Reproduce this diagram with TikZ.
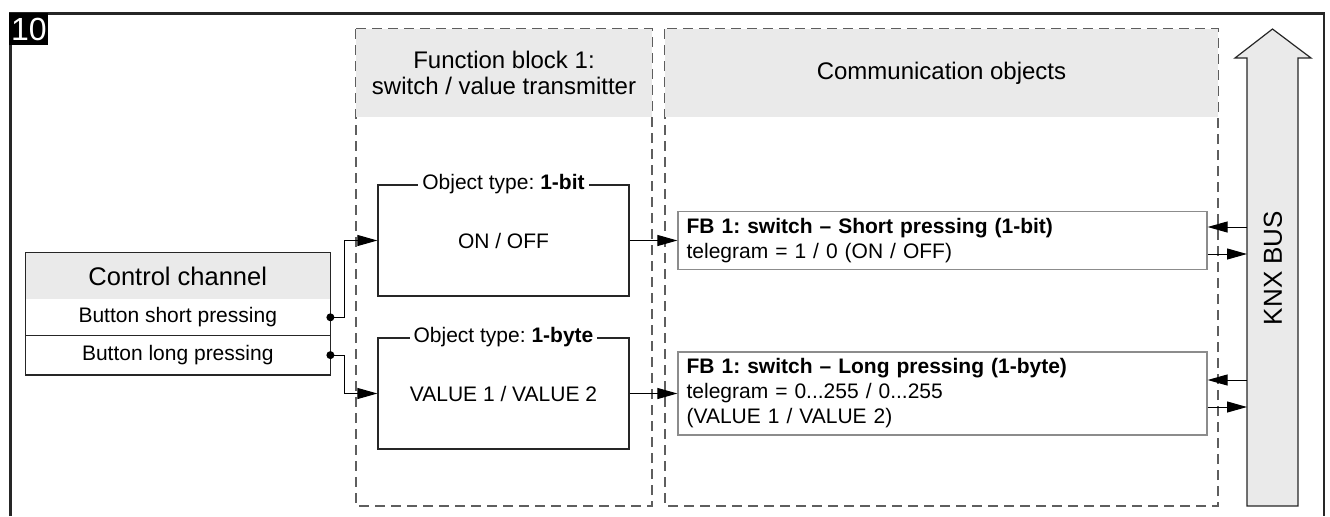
\documentclass[tikz,border=0pt]{standalone}
\usepackage{fontspec}
\setmainfont{Liberation Sans}
\usetikzlibrary{arrows.meta,positioning}
\definecolor{headgray}{HTML}{EAEAEA}
\definecolor{dashgray}{HTML}{5E5E5E}
\definecolor{boxgray}{HTML}{8C8C8C}
\definecolor{linegray}{HTML}{262626}
\frenchspacing

\begin{document}
\begin{tikzpicture}[x=0.5pt,y=-0.5pt,
    nodes={font=\fontsize{10.5}{12.5}\selectfont},
    head/.style={fill=headgray,inner sep=0pt,align=center,font=\fontsize{12}{13}\selectfont},
    column/.style={draw=dashgray,line width=0.9pt,dash pattern=on 5pt off 3pt},
    chrow/.style={minimum width=152.25pt,inner sep=0pt},
    objbox/.style={draw=linegray,line width=0.6pt,minimum width=125.5pt,minimum height=55.5pt,inner sep=0pt},
    objlab/.style={fill=white,inner xsep=2pt,inner ysep=1pt},
    combox/.style={draw=boxgray,line width=0.6pt,minimum width=264.5pt,inner xsep=4.3pt,text width=255.9pt,align=left},
    conn/.style={line width=0.5pt,-{Triangle[length=10pt,width=5.5pt]}},
    dot/.style={circle,fill,inner sep=0pt,minimum size=4pt}
]
    \useasboundingbox (0,0) rectangle (1330,516);
    \draw[line width=1.35pt,linegray] (10.5,516) -- (10.5,13.7) -- (1324,13.7) -- (1324,516);
    \node[fill=black,text=white,minimum width=19.5pt,minimum height=16pt,inner sep=0pt,
        font=\fontsize{16}{16}\selectfont,anchor=north west] (num) at (9,13) {10};

    % columns
    \draw[column] (356,29) rectangle (652,506);
    \draw[column] (665,29) rectangle (1218,506);
    \node[head,minimum width=148pt,minimum height=44pt] (fbhead) at (504,73)
        {Function block 1:\\switch / value transmitter};
    \node[head,minimum width=276.5pt,minimum height=44pt] (cohead) at (941.5,73)
        {Communication objects};

    % control channel
    \node[chrow,fill=headgray,minimum height=23pt,font=\fontsize{12.75}{14}\selectfont]
        (chan) at (177.75,276) {Control channel};
    \node[chrow,minimum height=17.5pt,below=0pt of chan] (short) {Button short pressing};
    \node[chrow,minimum height=19.5pt,below=0pt of short] (long) {Button long pressing};
    \draw[linegray,line width=0.6pt] (chan.north west) rectangle (long.south east)
        (long.north west) -- (long.north east);
    \node[dot] (d1) at (short.east) {};
    \node[dot] (d2) at (long.east) {};

    % function block objects
    \node[objbox] (obj1) at (503.5,240.5) {ON / OFF};
    \node[objlab] (lab1) at (obj1.north) {Object type: \textbf{1-bit}};
    \node[objbox] (obj2) at (503.5,393.5) {VALUE 1 / VALUE 2};
    \node[objlab] (lab2) at (obj2.north) {Object type: \textbf{1-byte}};

    % communication objects
    \node[combox,minimum height=28pt] (cb1) at (942.5,240.5)
        {\textbf{FB 1: switch -- Short pressing (1-bit)}\\telegram = 1 / 0 (ON / OFF)};
    \node[combox,minimum height=40.5pt] (cb2) at (942.5,393.5)
        {\textbf{FB 1: switch -- Long pressing (1-byte)}\\telegram = 0...255 / 0...255\\(VALUE 1 / VALUE 2)};

    % bus
    \draw[line width=0.6pt,linegray,fill=headgray]
        (1247,506) -- (1247,58) -- (1235,58) -- (1272.5,29) -- (1311,58)
        -- (1298,58) -- (1298,506) -- cycle;
    \node[rotate=90,font=\fontsize{13}{13}\selectfont] (knx) at (1273,268) {KNX BUS};
    \coordinate (bus) at (1247,268);

    \draw[conn] (d1.center) -- ++(14,0) |- (obj1.west);
    \draw[conn] (d2.center) -- ++(14,0) |- (obj2.west);
    \draw[conn] (obj1.east) -- (cb1.west);
    \draw[conn] (obj2.east) -- (cb2.west);
    \foreach \b in {cb1,cb2}{
        \path (\b.east) ++(0,-13.5) coordinate (\b-in) ++(0,27) coordinate (\b-out);
        \draw[conn] (bus |- \b-in) -- (\b-in);
        \draw[conn] (\b-out) -- (bus |- \b-out);
    }
\end{tikzpicture}
\end{document}
